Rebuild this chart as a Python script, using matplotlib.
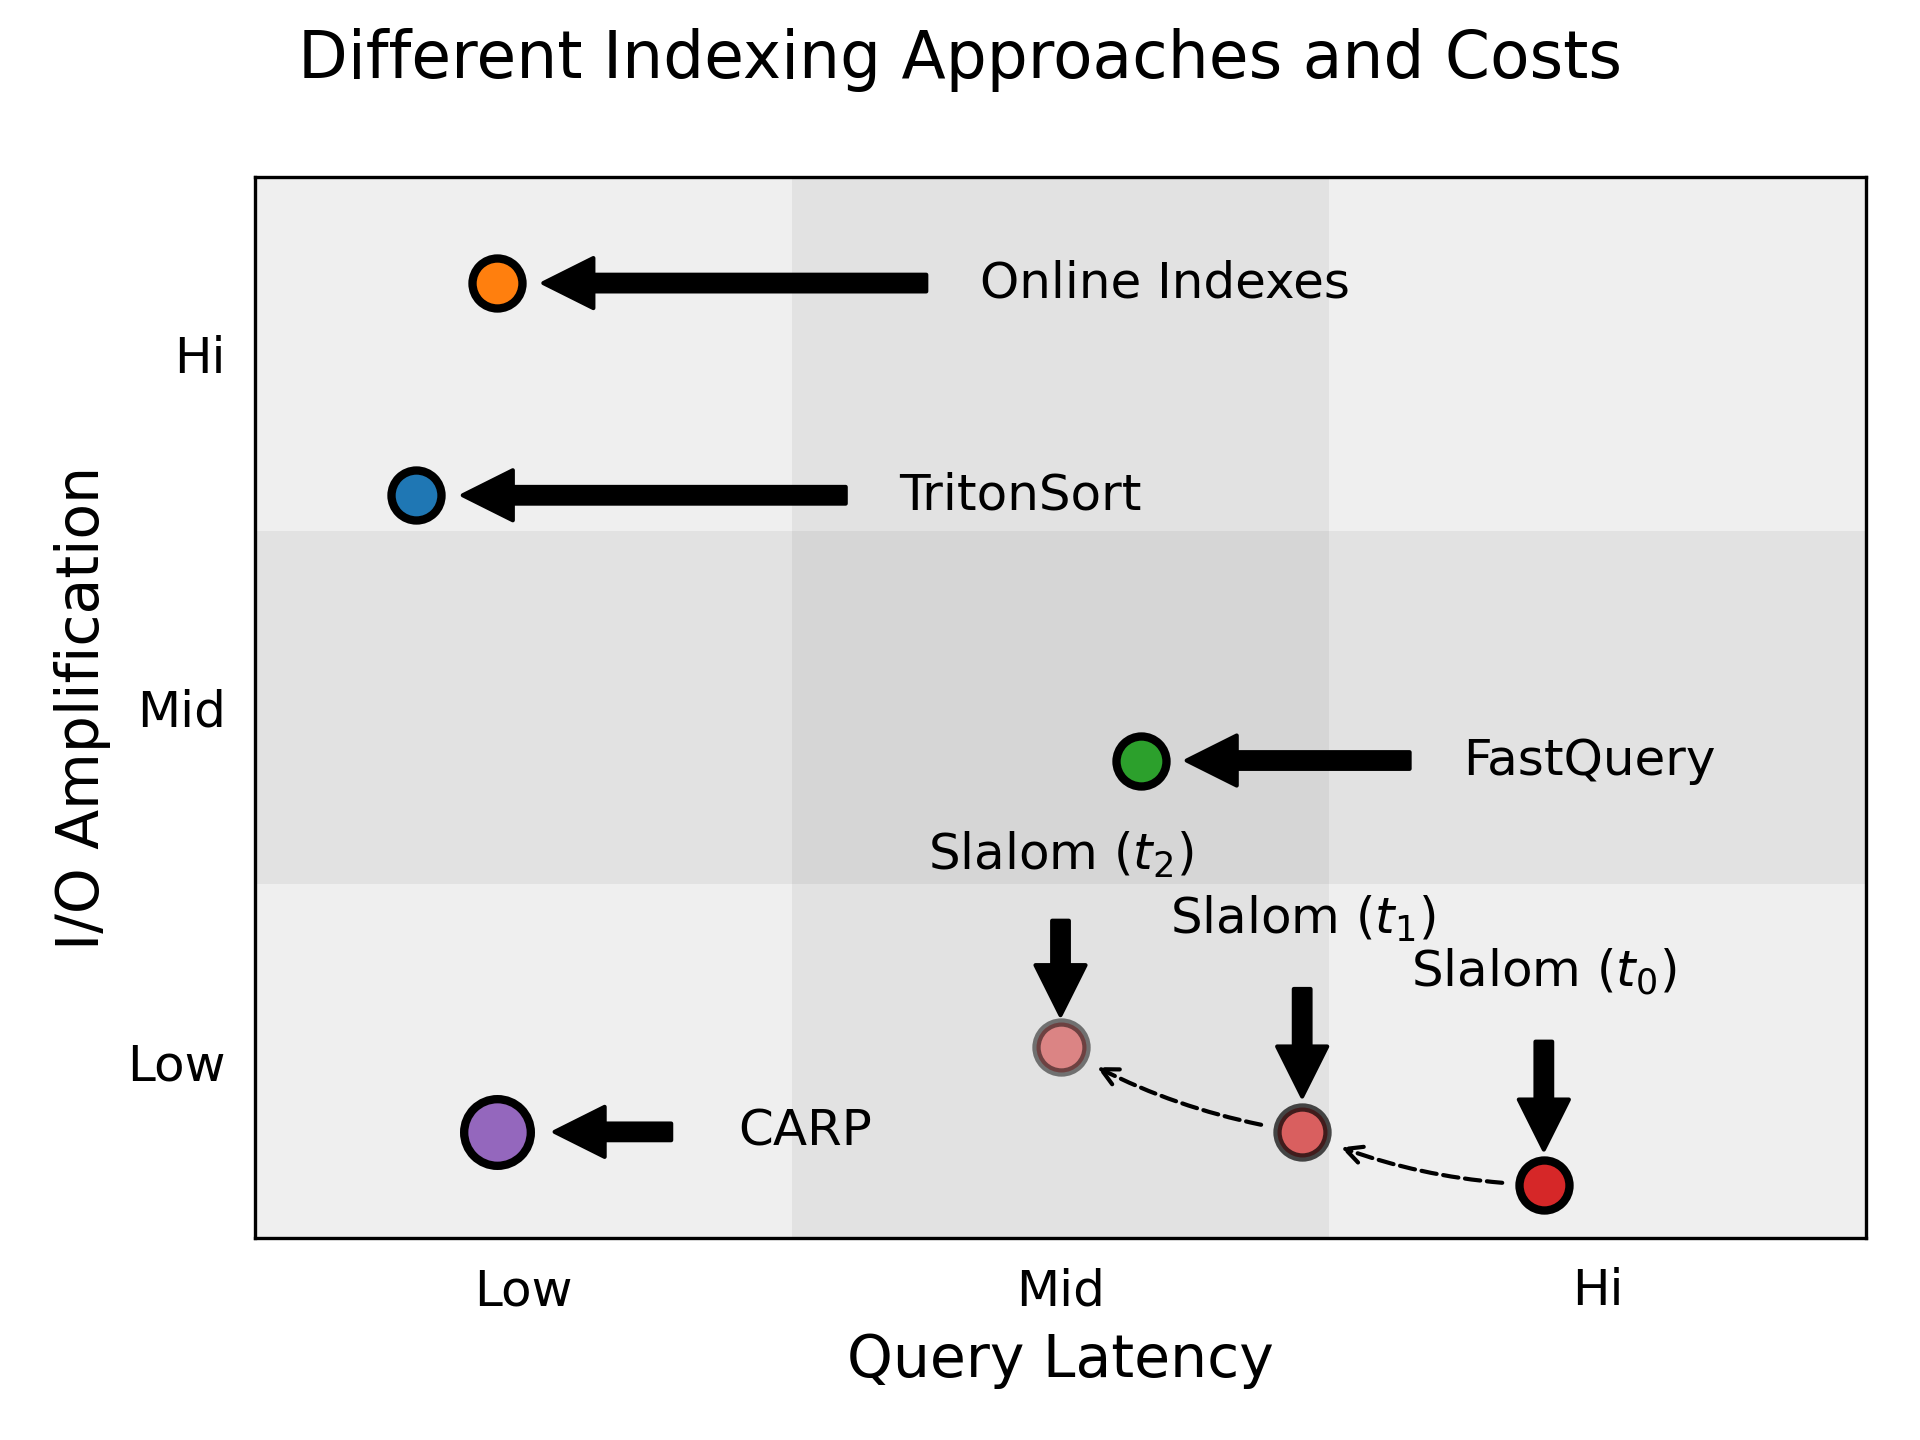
import matplotlib
matplotlib.use("Agg")
import matplotlib.pyplot as plt

# ---- data ----
tick_labels = ["Low", "Mid", "Hi"]
tick_pos = [0.5, 1.5, 2.5]

systems = ["Online Indexes", "TritonSort", "FastQuery", "CARP"]
sys_latency = [0.45, 0.30, 1.65, 0.45]
sys_io = [2.70, 2.10, 1.35, 0.30]
sys_colors = ["#ff7f0e", "#1f77b4", "#2ca02c", "#9467bd"]
sys_sizes = [144, 144, 144, 256]
sys_text_dx = [0.90, 0.90, 0.60, 0.45]
sys_tail_dx = [0.80, 0.80, 0.50, 0.325]
sys_head_dx = [0.087, 0.087, 0.085, 0.108]

slalom_labels = [r"Slalom ($t_0$)", r"Slalom ($t_1$)", r"Slalom ($t_2$)"]
slalom_latency = [2.40, 1.95, 1.50]
slalom_io = [0.15, 0.30, 0.54]
slalom_alpha = [1.0, 0.7, 0.5]
slalom_text_dy = [0.56, 0.56, 0.50]
slalom_tail_dy = [0.405, 0.404, 0.357]
slalom_head_dy = [0.10, 0.10, 0.09]
slalom_color = "#d62728"

# ---- figure ----
fig = plt.figure(figsize=(6.4, 4.8), dpi=300)
ax = fig.add_axes([0.1328, 0.1403, 0.8391, 0.7368])
ax.set_xlim(0, 3)
ax.set_ylim(0, 3)
ax.set_facecolor("#efefef")
ax.axvspan(1, 2, color="black", alpha=0.05, lw=0, zorder=0)
ax.axhspan(1, 2, color="black", alpha=0.05, lw=0, zorder=0)

ax.set_xticks(tick_pos)
ax.set_xticklabels(tick_labels)
ax.set_yticks(tick_pos)
ax.set_yticklabels(tick_labels)
ax.tick_params(length=0, pad=7, labelsize=12)

arrow_kw = dict(facecolor="black", edgecolor="black", width=4, headwidth=12,
                headlength=12, shrink=0)

for name, x, y, c, s, tdx, adx, hdx in zip(systems, sys_latency, sys_io, sys_colors,
                                            sys_sizes, sys_text_dx, sys_tail_dx, sys_head_dx):
    ax.scatter([x], [y], s=s, c=c, edgecolors="black", linewidths=2, zorder=4)
    ax.annotate("", xy=(x + hdx, y), xytext=(x + adx, y), arrowprops=arrow_kw)
    ax.text(x + tdx, y, name, ha="left", va="center", fontsize=12)

for name, x, y, a, tdy, ady, hdy in zip(slalom_labels, slalom_latency, slalom_io,
                                         slalom_alpha, slalom_text_dy, slalom_tail_dy,
                                         slalom_head_dy):
    ax.scatter([x], [y], s=144, c=slalom_color, edgecolors="black", linewidths=2,
               alpha=a, zorder=4)
    ax.annotate("", xy=(x, y + hdy), xytext=(x, y + ady), arrowprops=arrow_kw)
    ax.text(x, y + tdy, name, ha="center", va="baseline", fontsize=12)

for i in range(len(slalom_latency) - 1):
    ax.annotate("", xy=(slalom_latency[i + 1], slalom_io[i + 1]),
                xytext=(slalom_latency[i], slalom_io[i]),
                arrowprops=dict(arrowstyle="->", linestyle="--", color="black", lw=1,
                                connectionstyle="arc3,rad=-0.1", shrinkA=10, shrinkB=10))

ax.set_xlabel("Query Latency", fontsize=14)
ax.set_ylabel("I/O Amplification", fontsize=14)
fig.text(0.5, 1 - 78.0 / 1440, "Different Indexing Approaches and Costs",
         ha="center", va="baseline", fontsize=15.5)

fig.savefig("out.png", dpi=300)
